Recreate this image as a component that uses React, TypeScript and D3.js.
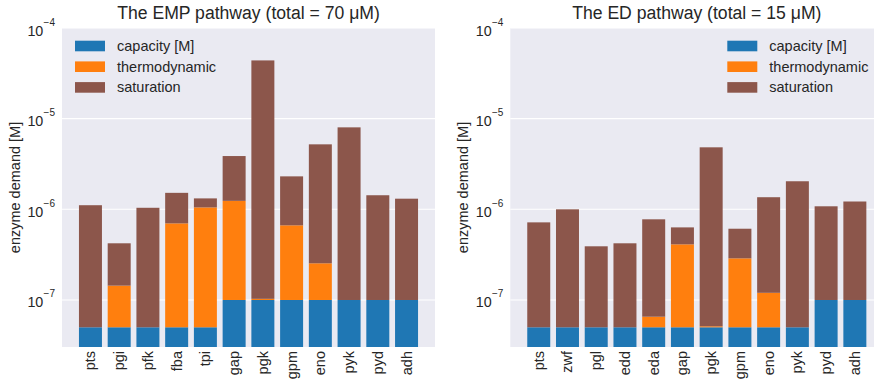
import React from "react";
import * as d3 from "d3";

// Reactions along each pathway
const empReactions = ["pts", "pgi", "pfk", "fba", "tpi", "gap", "pgk", "gpm", "eno", "pyk", "pyd", "adh"];
const edReactions = ["pts", "zwf", "pgl", "edd", "eda", "gap", "pgk", "gpm", "eno", "pyk", "pyd", "adh"];

// Cumulative enzyme demand [M] at each level of the cost breakdown (EMP)
const empCapacity = [5e-8, 5e-8, 5e-8, 5e-8, 5e-8, 1e-7, 1e-7, 1e-7, 1e-7, 1e-7, 1e-7, 1e-7];
const empThermodynamic = [5e-8, 1.44e-7, 5e-8, 7.0e-7, 1.05e-6, 1.24e-6, 1.03e-7, 6.66e-7, 2.54e-7, 1e-7, 1e-7, 1e-7];
const empSaturation = [1.11e-6, 4.22e-7, 1.04e-6, 1.52e-6, 1.32e-6, 3.87e-6, 4.39e-5, 2.31e-6, 5.21e-6, 8.02e-6, 1.43e-6, 1.31e-6];

// Cumulative enzyme demand [M] at each level of the cost breakdown (ED)
const edCapacity = [5e-8, 5e-8, 5e-8, 5e-8, 5e-8, 5e-8, 5e-8, 5e-8, 5e-8, 5e-8, 1e-7, 1e-7];
const edThermodynamic = [5e-8, 5e-8, 5e-8, 5e-8, 6.54e-8, 4.11e-7, 5.13e-8, 2.88e-7, 1.2e-7, 5e-8, 1e-7, 1e-7];
const edSaturation = [7.18e-7, 1.0e-6, 3.91e-7, 4.22e-7, 7.76e-7, 6.32e-7, 4.83e-6, 6.11e-7, 1.36e-6, 2.04e-6, 1.08e-6, 1.22e-6];

const seriesNames = ["capacity [M]", "thermodynamic", "saturation"];
const seriesColors = ["#1f77b4", "#ff7f0e", "#8c564b"];
const yTicks = [1e-7, 1e-6, 1e-5, 1e-4];
const yTickExponents = ["\u22127", "\u22126", "\u22125", "\u22124"];

const FONT = "'Liberation Sans', Arial, Helvetica, sans-serif";
const TEXT = "#262626";
const BG = "#EAEAF2";

const TOP = 28;
const BOTTOM = 347;

type PanelProps = {
  title: string;
  reactions: string[];
  levels: number[][];
  left: number;
  right: number;
  legendRight: boolean;
};

function Panel({ title, reactions, levels, left, right, legendRight }: PanelProps) {
  const y = d3.scaleLog().domain([3.03e-8, 1e-4]).range([BOTTOM, TOP]);
  const x = d3
    .scaleBand<string>()
    .domain(reactions.map((_, i) => String(i)))
    .range([left, right])
    .paddingInner(0.2)
    .paddingOuter(0.59);
  const yMin = y.domain()[0];

  const legendX = legendRight ? right - 156 : left + 13;

  return (
    <g>
      <rect x={left} y={TOP} width={right - left} height={BOTTOM - TOP} fill={BG} />
      {yTicks.map((t) => (
        <line key={t} x1={left} x2={right} y1={y(t)} y2={y(t)} stroke="#fff" strokeWidth={1.1} />
      ))}
      {reactions.map((r, i) => {
        const bx = x(String(i))!;
        const bw = x.bandwidth();
        return levels.map((lv, s) => {
          const lo = s === 0 ? yMin : levels[s - 1][i];
          const hi = lv[i];
          if (hi <= lo) return null;
          return (
            <rect
              key={`${r}-${s}`}
              x={bx}
              width={bw}
              y={y(hi)}
              height={y(lo) - y(hi)}
              fill={seriesColors[s]}
            />
          );
        });
      })}
      {/* y tick labels */}
      {yTicks.map((t, k) => (
        <g key={t} fontFamily={FONT} fill={TEXT}>
          <text x={left - 18.7} y={y(t) + 7.5} fontSize={14.3} textAnchor="end">
            10
          </text>
          <text x={left - 7} y={y(t) - 2.5} fontSize={10} textAnchor="end">
            {yTickExponents[k]}
          </text>
        </g>
      ))}
      {/* x tick labels */}
      {reactions.map((r, i) => (
        <text
          key={r + i}
          transform={`translate(${x(String(i))! + x.bandwidth() / 2},${BOTTOM + 4}) rotate(-90)`}
          textAnchor="end"
          dominantBaseline="central"
          fontFamily={FONT}
          fontSize={14.5}
          fill={TEXT}
        >
          {r}
        </text>
      ))}
      {/* y axis label */}
      <text
        transform={`translate(${left - 47},${(TOP + BOTTOM) / 2}) rotate(-90)`}
        textAnchor="middle"
        dominantBaseline="central"
        fontFamily={FONT}
        fontSize={14.5}
        fill={TEXT}
      >
        enzyme demand [M]
      </text>
      {/* title */}
      <text
        x={(left + right) / 2}
        y={18.5}
        textAnchor="middle"
        fontFamily={FONT}
        fontSize={17.6}
        fill={TEXT}
      >
        {title}
      </text>
      {/* legend */}
      {seriesNames.map((n, s) => (
        <g key={n}>
          <rect x={legendX} y={40.7 + s * 20.7} width={30} height={10.6} fill={seriesColors[s]} />
          <text
            x={legendX + 42}
            y={46 + s * 20.7}
            dominantBaseline="central"
            fontFamily={FONT}
            fontSize={14.5}
            fill={TEXT}
          >
            {n}
          </text>
        </g>
      ))}
    </g>
  );
}

export default function App() {
  return (
    <svg
      width={874}
      height={382}
      style={{ position: "absolute", left: 0, top: 0, background: "#fff" }}
    >
      <Panel
        title="The EMP pathway (total = 70 μM)"
        reactions={empReactions}
        levels={[empCapacity, empThermodynamic, empSaturation]}
        left={62}
        right={435}
        legendRight={false}
      />
      <Panel
        title="The ED pathway (total = 15 μM)"
        reactions={edReactions}
        levels={[edCapacity, edThermodynamic, edSaturation]}
        left={510.3}
        right={883.3}
        legendRight={true}
      />
    </svg>
  );
}
